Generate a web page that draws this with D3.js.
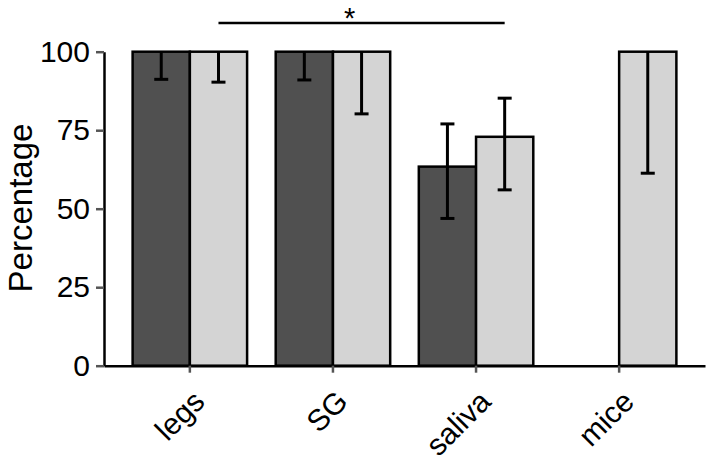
<!DOCTYPE html>
<html>
<meta charset="utf-8">
<head>
<script src="https://cdnjs.cloudflare.com/ajax/libs/d3/7.8.5/d3.min.js"></script>
<style>
  body { margin: 0; background: #fff; }
  text { font-family: "Liberation Sans", Arial, sans-serif; }
</style>
</head>
<body>
<script>

const width = 706,
    height = 466;

// data
const categories = ["legs", "SG", "saliva", "mice"];
const series = ["dark", "light"];
const darkValues = [100, 100, 63.4, null];
const darkLow = [91.2, 91, 46.9, null];
const darkHigh = [100, 100, 77, null];
const lightValues = [100, 100, 72.9, 100];
const lightLow = [90.3, 80.2, 56, 61.3];
const lightHigh = [100, 100, 85.2, 100];
const yTicks = [0, 25, 50, 75, 100];

const colours = { dark: "#505050", light: "#d4d4d4" };

const svg = d3.select("body")
    .append("svg")
    .attr("width", width)
    .attr("height", height);

const x = d3.scaleBand()
    .domain(categories)
    .range([104, 705])
    .paddingInner(0.2)
    .paddingOuter(0.2);

const xSub = d3.scaleBand()
    .domain(series)
    .range([0, x.bandwidth()]);

const y = d3.scaleLinear()
    .domain([0, 100])
    .range([365.7, 51.7]);

// flatten into one row per bar
const bars = [];
categories.forEach((c, i) => {
    if (darkValues[i] !== null) bars.push({ cat: c, s: "dark", v: darkValues[i], lo: darkLow[i], hi: darkHigh[i] });
    if (lightValues[i] !== null) bars.push({ cat: c, s: "light", v: lightValues[i], lo: lightLow[i], hi: lightHigh[i] });
});

svg.selectAll("rect.bar")
    .data(bars)
    .enter()
    .append("rect")
    .attr("class", "bar")
    .attr("x", d => x(d.cat) + xSub(d.s))
    .attr("y", d => y(d.v))
    .attr("width", xSub.bandwidth())
    .attr("height", d => y(0) - y(d.v))
    .attr("fill", d => colours[d.s])
    .attr("stroke", "#000")
    .attr("stroke-width", 2.5);

// error bars
const errs = svg.selectAll("g.err")
    .data(bars)
    .enter()
    .append("g")
    .attr("class", "err")
    .attr("transform", d => `translate(${x(d.cat) + xSub(d.s) + xSub.bandwidth() / 2},0)`)
    .attr("stroke", "#000")
    .attr("stroke-width", 3);
errs.append("line")
    .attr("y1", d => y(d.lo))
    .attr("y2", d => y(d.hi));
errs.append("line")
    .attr("x1", -7).attr("x2", 7)
    .attr("y1", d => y(d.lo)).attr("y2", d => y(d.lo));
errs.filter(d => d.hi > d.v).append("line")
    .attr("x1", -7).attr("x2", 7)
    .attr("y1", d => y(d.hi)).attr("y2", d => y(d.hi));

// y axis
const yAxis = svg.append("g")
    .attr("transform", "translate(104,0)")
    .call(d3.axisLeft(y).tickValues(yTicks).tickSize(8).tickPadding(6).tickSizeOuter(0));
yAxis.select(".domain").attr("stroke", "#000").attr("stroke-width", 2.5);
yAxis.selectAll(".tick line").attr("stroke", "#555").attr("stroke-width", 2.5);
yAxis.selectAll(".tick text")
    .attr("font-size", "30px")
    .attr("fill", "#000")
    .attr("font-family", "Liberation Sans, Arial, sans-serif");

// x axis
const xAxis = svg.append("g")
    .attr("transform", `translate(0,${y(0)})`)
    .call(d3.axisBottom(x).tickSize(7).tickSizeOuter(0).tickPadding(4));
xAxis.select(".domain").attr("stroke", "#000").attr("stroke-width", 2.5);
xAxis.selectAll(".tick line").attr("stroke", "#555").attr("stroke-width", 2.5);
xAxis.selectAll(".tick text")
    .attr("font-size", "30px")
    .attr("fill", "#000")
    .attr("font-family", "Liberation Sans, Arial, sans-serif")
    .attr("text-anchor", "end")
    .attr("transform", "translate(-6,15) rotate(-45)")
    .attr("dy", "0.7em");

// y label
svg.append("text")
    .attr("transform", "translate(32,208) rotate(-90)")
    .attr("text-anchor", "middle")
    .attr("font-size", "33px")
    .text("Percentage");

// significance bracket between legs and saliva
const sigX1 = x("legs") + xSub("light") + xSub.bandwidth() / 2;
const sigX2 = x("saliva") + xSub("light") + xSub.bandwidth() / 2;
svg.append("line")
    .attr("x1", sigX1).attr("x2", sigX2)
    .attr("y1", 23).attr("y2", 23)
    .attr("stroke", "#000")
    .attr("stroke-width", 2.5);
svg.append("text")
    .attr("x", (sigX1 + sigX2) / 2 - 12)
    .attr("y", 28)
    .attr("text-anchor", "middle")
    .attr("font-size", "29px")
    .text("*");

</script>
</body>
</html>
